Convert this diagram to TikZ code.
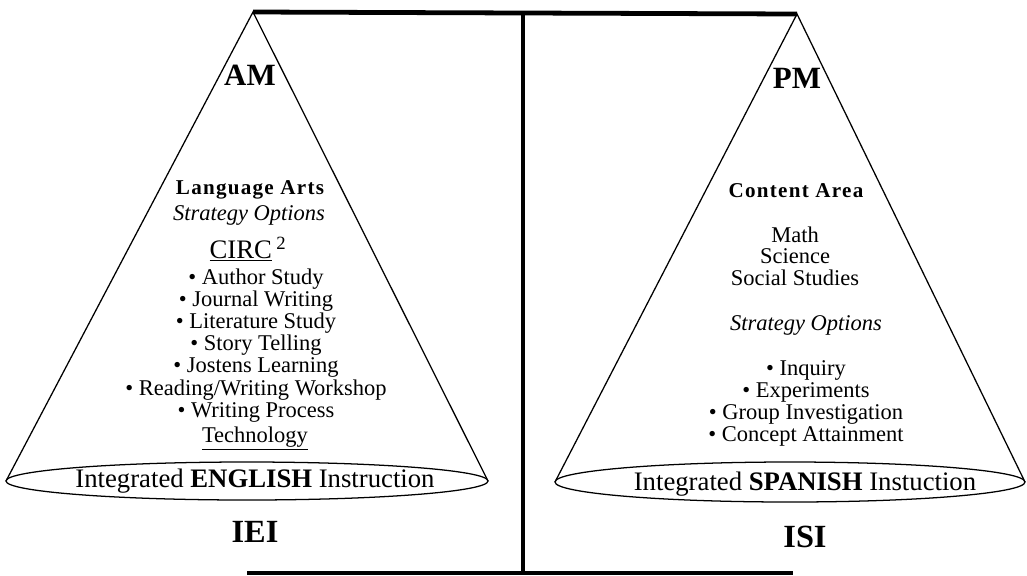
\documentclass[tikz,border=0pt]{standalone}
\usepackage{fontspec}
\setmainfont{Liberation Serif}
\newfontfamily\spacedfont[LetterSpace=6]{Liberation Serif}
\usetikzlibrary{positioning}
\begin{document}
\begin{tikzpicture}[x=0.025cm,y=-0.025cm,
            cone/.style={line width=0.9pt},
            bar/.style={line width=3.4pt},
            txt/.style={inner sep=0,outer sep=0,anchor=base},
            big/.style={txt,font=\fontsize{22}{26}\selectfont\bfseries},
            head/.style={txt,font=\fontsize{15}{18}\spacedfont\bfseries},
            opt/.style={txt,font=\fontsize{16}{19}\selectfont\itshape},
            item/.style={txt,font=\fontsize{16}{18}\selectfont},
            base/.style={txt,font=\fontsize{19}{22}\selectfont}]
  \useasboundingbox (0,0) rectangle (1027,575);
  % frame
  \coordinate (amtop) at (253,12);
  \coordinate (pmtop) at (797,14);
  \draw[bar] (amtop) -- (pmtop);
  \draw[bar] (523,13) -- (523,575);
  \draw[bar] (247,573) -- (793,573);
  % ===================
  \draw[cone] (6,481) -- (amtop) -- (488,481);
  \draw[cone] (247,481) ellipse (241 and 19);
  \node[big] (am) at (250,85) {AM};
  \node[head] (lang) at (250,194) {Language Arts};
  \node[opt] (amopt) at (249,220) {Strategy Options};
  \node[txt,font=\fontsize{19}{22}\selectfont] (circ) at (248,258) {\underline{CIRC}\,\textsuperscript{2}};
  \foreach \t [count=\i from 0] in {Author Study,Journal Writing,Literature Study,Story Telling,
                                    Jostens Learning,Reading/Writing Workshop,Writing Process}{
    \node[item] (am\i) at (256,{284+22.2*\i}) {• \t};
  }
  \node[item] (tech) at (255,442) {\underline{Technology}};
  \node[base] (iei) at (255,487) {Integrated \textbf{ENGLISH} Instruction};
  \node[big,font=\fontsize{23}{26}\selectfont\bfseries] (ieilbl) at (255,542) {IEI};
  % ===================
  \draw[cone] (555,482) -- (pmtop) -- (1025,482);
  \draw[cone] (790,482) ellipse (235 and 20);
  \node[big] (pm) at (797,88) {PM};
  \node[head] (cont) at (796,197) {Content Area};
  \foreach \t [count=\i from 0] in {Math,Science,Social Studies}{
    \node[item] (subj\i) at (795,{242+21.5*\i}) {\t};
  }
  \node[opt] (pmopt) at (806,330) {Strategy Options};
  \foreach \t [count=\i from 0] in {Inquiry,Experiments,Group Investigation,Concept Attainment}{
    \node[item] (pm\i) at (806,{375+22.3*\i}) {• \t};
  }
  \node[base] (isi) at (805,490) {Integrated \textbf{SPANISH} Instuction};
  \node[big,font=\fontsize{23}{26}\selectfont\bfseries] (isilbl) at (805,547) {ISI};
\end{tikzpicture}
\end{document}
